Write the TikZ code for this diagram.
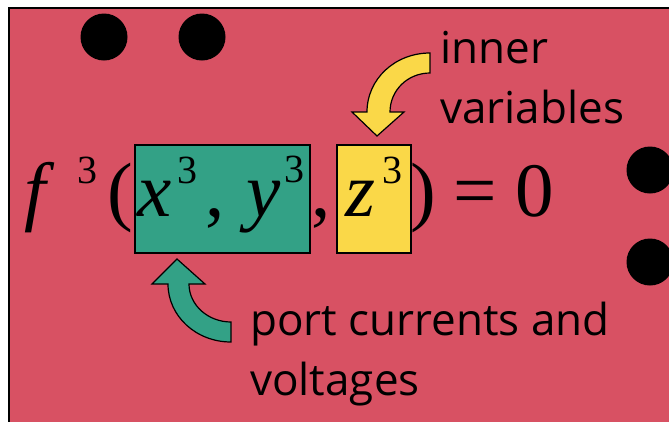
\documentclass[tikz,border=0pt]{standalone}
\usepackage{fontspec}
\setmainfont{Open Sans}
\newfontfamily\tms{Liberation Serif}
\definecolor{slab}{RGB}{216,81,99}
\definecolor{portgreen}{RGB}{51,161,134}
\definecolor{innergold}{RGB}{250,216,72}
\begin{document}
\begin{tikzpicture}[x=1pt, y=-1pt,
    box/.style={draw, line width=1.5pt, inner sep=0pt, anchor=north west},
    sym/.style={inner sep=0pt, anchor=base west, font=\tms\fontsize{77}{80}\selectfont},
    idx/.style={inner sep=0pt, anchor=base west, font=\tms\fontsize{40}{44}\selectfont},
    note/.style={inner sep=0pt, anchor=base west, align=left, font=\fontsize{44}{60}\selectfont},
    blob/.style={draw, line width=1.2pt, line join=miter},
    pin/.style={circle, fill=black, inner sep=0pt, minimum size=47pt},
]
\useasboundingbox (0,0) rectangle (669,421);
\clip (0,0) rectangle (669,421);
\draw[fill=slab, line width=1.5pt] (9,8) rectangle (720,460);

% terminals
\node[pin] (p1) at (104,37) {};
\node[pin] (p2) at (202,37) {};
\node[pin] (p3) at (650,170) {};
\node[pin] (p4) at (650,262) {};

% variable groups
\node[box, fill=portgreen, minimum width=175pt, minimum height=108pt] (ports) at (134,144) {};
\node[box, fill=innergold, minimum width=74pt, minimum height=108pt] (inner) at (336,144) {};

% the relation
\node[sym] (fn) at (24,216) {\itshape f};
\node[idx] (fidx) at (77,183) {3};
\node[sym] (lpar) at (107,216) {(};
\node[sym] (xv) at (137,216) {\itshape x};
\node[idx] (xidx) at (177,183) {3};
\node[sym] (c1) at (205,216) {,};
\node[sym] (yv) at (246,216) {\itshape y};
\node[idx] (yidx) at (284,182) {3};
\node[sym] (c2) at (311,216) {,};
\node[sym] (zv) at (345,216) {\itshape z};
\node[idx] (zidx) at (382,183) {3};
\node[sym] (rpar) at (410,216) {)};
\node[sym] (eq) at (453,216) {=};
\node[sym] (zero) at (515,216) {0};

% labels
\node[note] (innerlbl) at (440,123) {inner\\variables};
\node[note] (portlbl) at (250,395) {port currents and\\voltages};

% curved block arrows
\draw[blob, fill=innergold] (430,53) .. controls (395,53) and (367,79) .. (367,112)
    -- (352,112) -- (377,136) -- (404,112) -- (390,112)
    .. controls (390,90) and (408,73) .. (430,73) -- cycle;
\draw[blob, fill=portgreen] (231,342) .. controls (196,342) and (168,316) .. (168,284)
    -- (152,284) -- (177,259) -- (205,284) -- (189,284)
    .. controls (189,305) and (208,322) .. (231,322) -- cycle;
\end{tikzpicture}
\end{document}
